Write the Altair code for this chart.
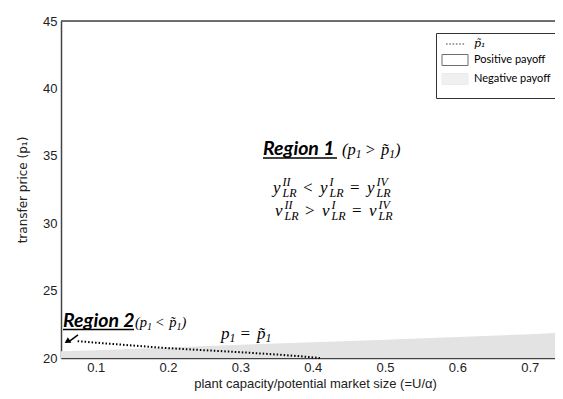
import altair as alt
import pandas as pd
import numpy as np

# ---------------- data ----------------
gray_x = [0.052, 0.10, 0.20, 0.30, 0.40, 0.50, 0.60, 0.70, 0.735]
gray_y = [20.50, 20.58, 20.78, 20.98, 21.17, 21.36, 21.55, 21.76, 21.86]

p1_x = [0.075, 0.10, 0.15, 0.20, 0.25, 0.30, 0.35, 0.38, 0.41]
p1_y = [21.25, 21.14, 20.93, 20.73, 20.58, 20.43, 20.26, 20.14, 20.00]

legend_labels = ["p\u0303\u2081", "Positive payoff", "Negative payoff"]
x_ticks = [0.1, 0.2, 0.3, 0.4, 0.5, 0.6, 0.7]
y_ticks = [20, 25, 30, 35, 40, 45]
x_domain = [0.052, 0.735]
y_domain = [20, 45]

# ---------------- styles ----------------
SERIF = "Liberation Serif"
SANS = "Liberation Sans"
LEGF = "Lato"
GRAY = "#e3e3e3"
AXC = "#444444"
TXC = "#222222"

XSCALE = alt.Scale(domain=x_domain, nice=False, zero=False)
YSCALE = alt.Scale(domain=y_domain, nice=False, zero=False)
XAXIS = alt.Axis(values=x_ticks, format=".1f", grid=False, ticks=False,
                 domainColor=AXC, domainWidth=1.5, labelFont=SANS, labelFontSize=13,
                 labelColor=TXC, labelPadding=3,
                 title="plant capacity/potential market size (=U/\u03b1)",
                 titleFont=SANS, titleFontSize=13, titleFontWeight="normal",
                 titleColor=TXC, titlePadding=3, titleX=254)
YAXIS = alt.Axis(values=y_ticks, format="d", grid=False, ticks=False,
                 domainColor=AXC, domainWidth=1.5, labelFont=SANS, labelFontSize=13,
                 labelColor=TXC, labelPadding=4,
                 title="transfer price (p\u2081)",
                 titleFont="DejaVu Sans", titleFontSize=12, titleFontWeight="normal",
                 titleColor=TXC, titlePadding=13)


def xf():
    return alt.X("x:Q", scale=XSCALE, axis=XAXIS)


def yf():
    return alt.Y("y:Q", scale=YSCALE, axis=YAXIS)


def xd(v):
    return alt.XDatum(v, type="quantitative", scale=XSCALE, axis=XAXIS)


def yd(v):
    return alt.YDatum(v, type="quantitative", scale=YSCALE, axis=YAXIS)


area_df = pd.DataFrame({"x": gray_x, "y": gray_y})
line_df = pd.DataFrame({"x": p1_x, "y": p1_y})
legend_df = pd.DataFrame({"x": [np.nan] * 3, "y": [np.nan] * 3, "cat": legend_labels})
ONE = pd.DataFrame({"k": [0]})

# negative payoff region
area = alt.Chart(area_df).mark_area(color=GRAY, opacity=1).encode(
    x=xf(), y=yf(), y2=alt.datum(y_domain[0])
)

# p~1 dotted curve
line = alt.Chart(line_df).mark_line(color="black", strokeWidth=2, strokeDash=[1.5, 2]).encode(
    x=xf(), y=yf()
)

# top frame line
top = alt.Chart(ONE).mark_rule(color=AXC, strokeWidth=1.5).encode(y=yd(y_domain[1]))

# legend (symbols drawn by the legend itself)
dots = " ".join(
    "M{:.2f},-0.15h0.29v0.3h-0.29Z".format(s) for s in [-0.18, 0.42, 1.02, 1.62, 2.22, 2.82]
)
rect = "M-0.91,-1H3.82V1H-0.91Z"
LEG = alt.Legend(
    orient="none", legendX=375, legendY=12, title=" ", titleOrient="bottom",
    titleFontSize=5, titlePadding=1,
    strokeColor="#333333", fillColor="white", padding=5,
    symbolSize=121, symbolStrokeWidth=1, labelOffset=21, rowPadding=3,
    labelFontSize=11, labelColor="black",
    labelFont=alt.ExprRef(expr="datum.index === 0 ? 'DejaVu Serif' : '" + LEGF + "'"),
    labelFontStyle=alt.ExprRef(expr="datum.index === 0 ? 'italic' : 'normal'"),
)
legend_layer = alt.Chart(legend_df).mark_point(clip=True).encode(
    x=xf(), y=yf(),
    shape=alt.Shape("cat:N", scale=alt.Scale(domain=legend_labels, range=[dots, rect, rect]), legend=LEG),
    fill=alt.Fill("cat:N", scale=alt.Scale(domain=legend_labels, range=["black", "white", GRAY]), legend=LEG),
    stroke=alt.Stroke("cat:N", scale=alt.Scale(domain=legend_labels, range=["transparent", "#333333", GRAY]), legend=LEG),
)


def txt(x, y, s, size, font=SERIF, style="italic", weight="normal", dx=0, dy=0):
    return alt.Chart(ONE).mark_text(
        text=s, font=font, fontSize=size, fontStyle=style, fontWeight=weight,
        align="left", baseline="alphabetic", dx=dx, dy=dy, color="black"
    ).encode(x=xd(x), y=yd(y))


def uline(x1, x2, y):
    return alt.Chart(ONE).mark_rule(color="black", strokeWidth=1.5).encode(
        x=xd(x1), x2=alt.datum(x2), y=yd(y)
    )


# approximate advance widths (em) of Liberation Serif italic
EM = {"(": 0.333, ")": 0.333, "p": 0.5, ">": 0.675, "<": 0.675,
      "=": 0.675, "1": 0.5, "\u0303": 0.0}


def expr(x, y, parts, size, dx0=0):
    """parts: list of (text, kind); kind 'n' normal, 's' subscript, 'g' gap (text = em)"""
    out = []
    cur = dx0
    for s, kind in parts:
        if kind == "g":
            cur += s * size
            continue
        sub = kind == "s"
        sz = size * 0.7 if sub else size
        style = "normal" if s in "<>=" else "italic"
        out.append(txt(x, y, s, sz, style=style, dx=cur, dy=size * 0.2 if sub else 0))
        cur += sum(EM.get(c, 0.5) for c in s) * sz
    return out


def rel(op):
    return [("(", "n"), ("p", "n"), ("1", "s"), (0.25, "g"), (op, "n"), (0.25, "g"),
            ("p\u0303", "n"), ("1", "s"), (")", "n")]


layers = [area, line, top, legend_layer]

# Region 1 heading
layers += [
    txt(0.3313, 35.06, "Region 1", 19.5, font=LEGF, weight="bold"),
    uline(0.3313, 0.4336, 34.84),
]
layers += expr(0.3313, 35.06, rel(">"), 16.5, dx0=79)


def math_line(x, y, letter, op):
    pieces = [
        (letter, 0, 0, 17, "italic"), ("II", 9.5, -7, 12, "italic"), ("LR", 9.5, 4, 12, "italic"),
        (op, 30, 0, 17, "normal"),
        (letter, 47, 0, 17, "italic"), ("I", 56.5, -7, 12, "italic"), ("LR", 56.5, 4, 12, "italic"),
        ("=", 77, 0, 17, "normal"),
        (letter, 94, 0, 17, "italic"), ("IV", 103.5, -7, 12, "italic"), ("LR", 103.5, 4, 12, "italic"),
    ]
    return [txt(x, y, s, sz, style=st, dx=dx, dy=dy) for s, dx, dy, sz, st in pieces]


layers += math_line(0.3451, 32.24, "y", "<")
layers += math_line(0.3479, 30.53, "v", ">")

# Region 2 annotation
layers += [
    txt(0.0548, 22.30, "Region 2", 19.5, font=LEGF, weight="bold"),
    uline(0.0548, 0.1529, 22.11),
]
layers += expr(0.0548, 22.30, rel("<"), 14.5, dx0=72)
layers += expr(0.2732, 21.41, [("p", "n"), ("1", "s"), (0.3, "g"), ("=", "n"), (0.3, "g"),
                               ("p\u0303", "n"), ("1", "s")], 17)

# arrow pointing at region 2
arrow_shaft = alt.Chart(ONE).mark_rule(color="black", strokeWidth=1.5).encode(
    x=xd(0.0755), y=yd(21.71), x2=alt.datum(0.0625), y2=alt.datum(21.19)
)
arrow_head = alt.Chart(ONE).mark_point(
    shape="triangle-up", filled=True, color="black", size=45, angle=238, opacity=1
).encode(x=xd(0.0605), y=yd(21.22))
layers += [arrow_shaft, arrow_head]

chart = alt.layer(*layers).properties(
    width=494, height=337,
    autosize=alt.AutoSizeParams(type="none"),
    padding={"left": 53, "top": 13, "right": 0, "bottom": 36},
).configure_view(stroke=None).configure(background="white")

chart.save("out.html", embed_options={"renderer": "svg", "actions": False})
